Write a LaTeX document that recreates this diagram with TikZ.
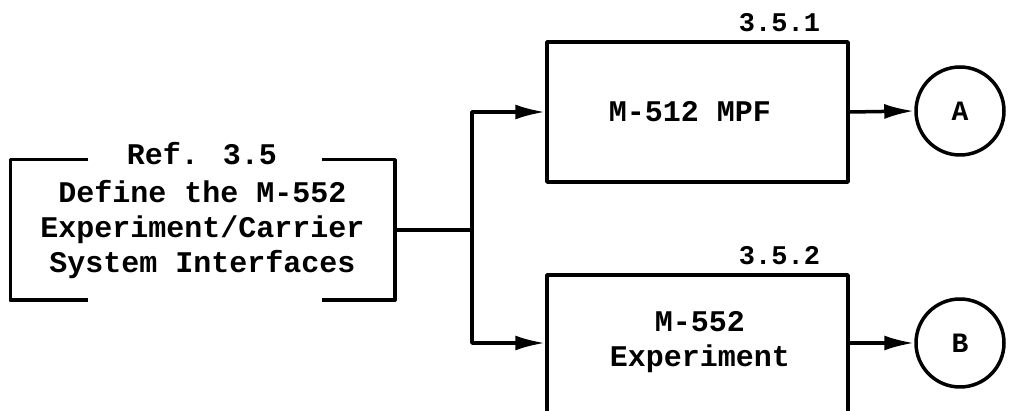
\documentclass[tikz,border=0pt]{standalone}
\usepackage{fontspec}
\setmainfont{Liberation Mono}
\usetikzlibrary{arrows.meta}
\begin{document}
\begin{tikzpicture}[x=1pt,y=-1pt, line width=3.5pt, line join=round,
  txt/.style={font=\bfseries\fontsize{30}{35}\selectfont, align=center, inner sep=0pt},
  blk/.style={draw, minimum width=301pt, inner sep=0pt},
  arr/.style={-{Latex[length=30pt,width=15pt]}},
  conn/.style={draw, circle, minimum size=88pt, inner sep=0pt, font=\bfseries\fontsize{28}{30}\selectfont},
  num/.style={font=\bfseries\fontsize{27}{30}\selectfont, inner sep=0pt, anchor=south east}]
\useasboundingbox (0,0) rectangle (1010,411);
\clip (0,0) rectangle (1010,411);
% left box
\node[txt, minimum width=381pt, minimum height=137pt] (def) at (202.5,230) {Define the M-552\\Experiment/Carrier\\System Interfaces};
\draw ([xshift=78pt]def.north west) -- (def.north west) -- (def.south west) -- ([xshift=78pt]def.south west);
\draw ([xshift=-73pt]def.north east) -- (def.north east) -- (def.south east) -- ([xshift=-73pt]def.south east);
\node[txt, anchor=base] (ref) at (202,165) {Ref. 3.5};
% right boxes
\node[blk, minimum height=140pt] (b1) at (697.5,112) {};
\node[txt] (b1t) at (690,112) {M-512 MPF};
\node[num] (n1) at ([xshift=-28pt,yshift=7pt]b1.north east) {3.5.1};
\node[blk, minimum height=185pt] (b2) at (697.5,367.5) {};
\node[txt] (b2t) at (700,342) {M-552\\Experiment};
\node[num] (n2) at ([xshift=-28pt,yshift=7pt]b2.north east) {3.5.2};
% connectors
\node[conn] (A) at (960,111) {A};
\node[conn] (B) at (960,343) {B};
\coordinate (j) at (472,230);
\draw (def.east) -- (j);
\draw[arr] (j) |- (b1.west);
\draw[arr] (j) |- (b2.west |- B.center);
\draw[arr] (b1.east) -- (A.west);
\draw[arr] (b2.east |- B.center) -- (B.west);
\end{tikzpicture}
\end{document}
